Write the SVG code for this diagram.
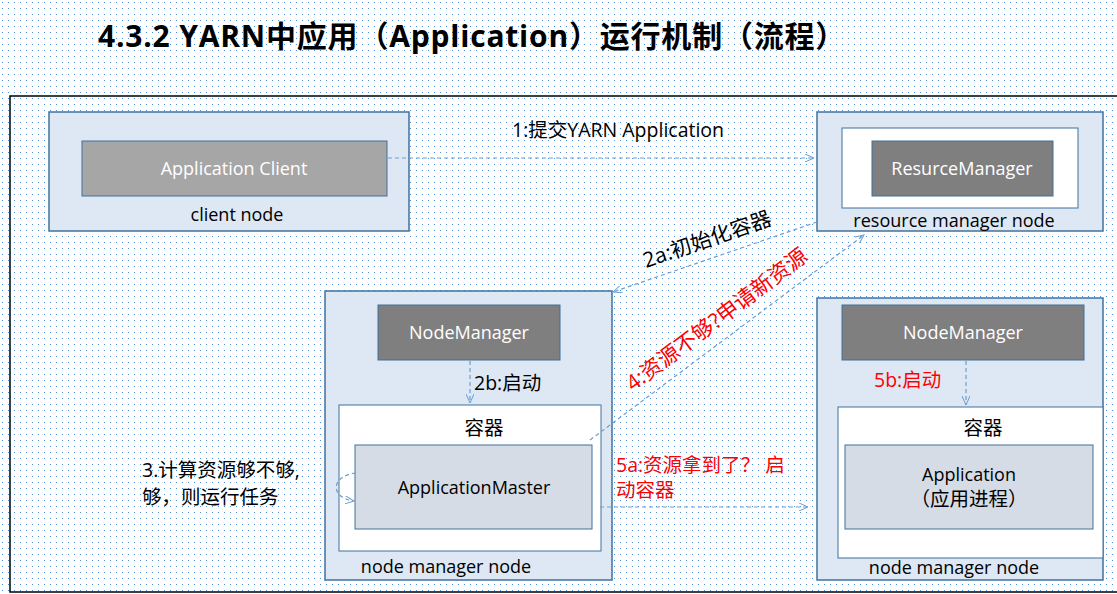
<svg xmlns="http://www.w3.org/2000/svg" width="1117" height="594" viewBox="0 0 1117 594">
<defs>
<pattern id="dots" width="6" height="6" patternUnits="userSpaceOnUse"><rect x="2" y="2" width="1" height="1" fill="#4a8fe0"/></pattern>
<marker id="ar" markerWidth="10" markerHeight="8" refX="9" refY="4" orient="auto" markerUnits="userSpaceOnUse"><path d="M0,0 L9,4 L0,8" fill="none" stroke="#6a9fd0" stroke-width="1"/></marker>
<style>
.node{fill:#dde8f4;stroke:#41719c;stroke-width:1.5}
.wh{fill:#fff;stroke:#41719c;stroke-width:1}
.dk{fill:#7f7f7f;stroke:#41719c;stroke-width:1}
.lg{fill:#a6a6a6;stroke:#41719c;stroke-width:1}
.am{fill:#d6dce5;stroke:#41719c;stroke-width:1}
text{font-family:"Open Sans","Noto Sans CJK SC",sans-serif;font-size:18px;fill:#000}
.z{font-size:19.5px}
.w{fill:#fff}
.r{fill:#ff0000}
.c{stroke:#6a9fd0;stroke-width:1.2;stroke-dasharray:4,3;fill:none;marker-end:url(#ar)}
</style>
</defs>
<rect width="1117" height="594" fill="#fff"/>
<rect width="1117" height="594" fill="url(#dots)"/>
<text x="98" y="47" style="font-size:30px;font-weight:bold;letter-spacing:0.8px">4.3.2  YARN中应用（Application）运行机制（流程）</text>
<rect x="10" y="96" width="1110" height="496" fill="none" stroke="#000" stroke-width="1.5"/>
<g id="client"><rect class="node" x="49" y="112" width="360" height="119"/><rect class="lg" x="82" y="141" width="305" height="55"/><text class="w" x="234" y="175" text-anchor="middle">Application Client</text><text x="237" y="221" text-anchor="middle">client node</text></g>
<g id="rm"><rect class="node" x="817" y="112" width="286" height="119"/><rect class="wh" x="842" y="128" width="236" height="80"/><rect class="dk" x="872" y="141" width="181" height="55"/><text class="w" x="962" y="175" text-anchor="middle">ResurceManager</text><text x="954" y="227" text-anchor="middle">resource manager node</text></g>
<g id="nm1"><rect class="node" x="325" y="291" width="287" height="289"/><rect class="dk" x="378" y="305" width="182" height="55"/><text class="w" x="469" y="339" text-anchor="middle">NodeManager</text><rect class="wh" x="339" y="405" width="262" height="146"/><text class="z" x="484" y="435" text-anchor="middle">容器</text><rect class="am" x="355" y="445" width="237" height="84"/><text x="474" y="494" text-anchor="middle">ApplicationMaster</text><text x="446" y="573" text-anchor="middle">node manager node</text></g>
<g id="nm2"><rect class="node" x="817" y="298" width="286" height="282"/><rect class="dk" x="842" y="305" width="242" height="55"/><text class="w" x="963" y="339" text-anchor="middle">NodeManager</text><rect class="wh" x="838" y="407" width="265" height="151"/><text class="z" x="983" y="435" text-anchor="middle">容器</text><rect class="am" x="845" y="445" width="248" height="84"/><text x="969" y="481" text-anchor="middle">Application</text><text class="z" x="969" y="506" text-anchor="middle">（应用进程）</text><text x="954" y="574" text-anchor="middle">node manager node</text></g>
<g id="connectors">
<path class="c" d="M388,158 L814,158"/>
<path class="c" d="M817,222 L613,292"/>
<path class="c" d="M590,440 L864,235"/>
<path class="c" d="M470,361 L470,403"/>
<path class="c" d="M966,361 L966,405"/>
<path class="c" d="M600,507 L808,507"/>
<path class="c" d="M356,473 C330,476 330,498 354,501"/>
</g>
<text class="z" x="512" y="137">1:提交YARN Application</text>
<text class="z" transform="translate(646,268) rotate(-19)" style="font-size:21px">2a:初始化容器</text>
<text class="r" transform="translate(633,392) rotate(-37)" style="font-size:21.5px">4:资源不够?申请新资源</text>
<text class="z" x="474" y="390">2b:启动</text>
<text class="r z" x="874" y="387">5b:启动</text>
<text class="r z" x="616" y="472">5a:资源拿到了？ 启</text>
<text class="r z" x="616" y="497">动容器</text>
<text class="z" x="142" y="477">3.计算资源够不够,</text>
<text class="z" x="142" y="504">够，则运行任务</text>
</svg>
